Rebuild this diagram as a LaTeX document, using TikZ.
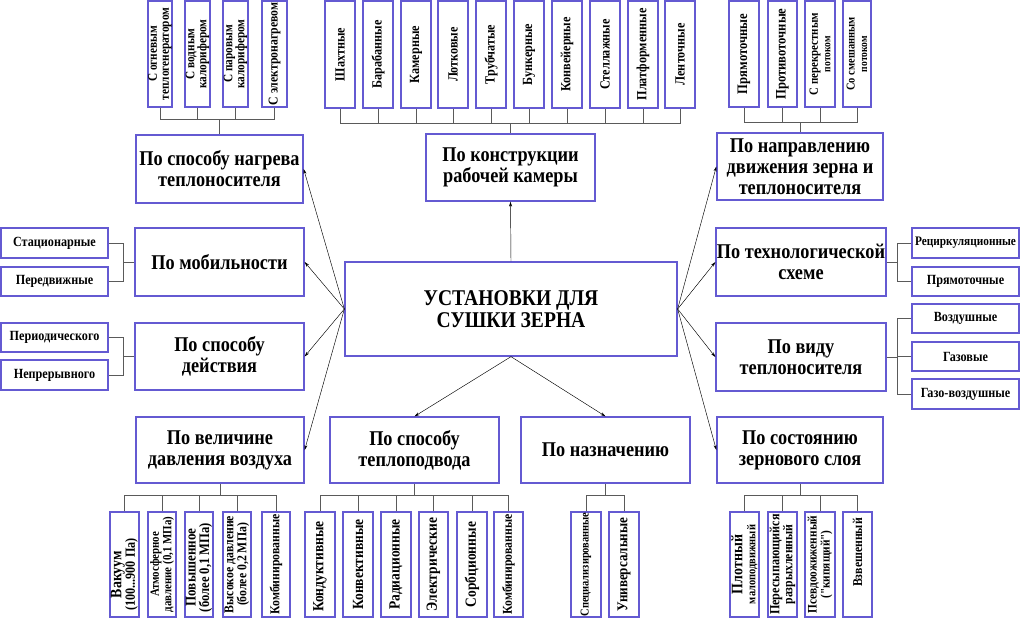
\documentclass[tikz,border=0pt]{standalone}
\usepackage{fontspec}
\setmainfont{Liberation Serif}
\newfontfamily\cnd[FakeStretch=0.87]{Liberation Serif}
\usetikzlibrary{arrows.meta,calc}
\definecolor{boxc}{RGB}{100,90,210}
\definecolor{linec}{RGB}{90,90,90}
\newcommand\fsz[2]{\fontsize{#1}{#2}\selectfont}
\tikzset{
 cbox/.style={draw=boxc, line width=1.3pt, fill=white, inner sep=0pt, align=center, font=\cnd\bfseries\fsz{21}{21}},
 mbox/.style={draw=boxc, line width=1.3pt, fill=white, inner sep=0pt, align=center, font=\cnd\bfseries\fsz{22.5}{22}},
 sbox/.style={draw=boxc, line width=1.3pt, fill=white, inner sep=0pt, align=center, font=\cnd\bfseries\fsz{14}{15}},
 vframe/.style={draw=boxc, line width=1.3pt, fill=white, inner sep=0pt},
 vtext/.style={rotate=90, inner sep=0pt, align=center},
 conn/.style={draw=linec, line width=0.6pt},
 arr/.style={draw=black, line width=0.45pt, -{Stealth[length=5pt,width=3pt]}},
}
\newcommand\cbx[7]{\node[#1, minimum width={(#5-#3)*1pt}, minimum height={(#6-#4)*1pt}] (#2) at ({(#3+#5)/2},{(#4+#6)/2}) {#7};}
\newcommand\vbx[8]{%
 \node[vframe, minimum width={(#4-#2)*1pt}, minimum height={(#5-#3)*1pt}] (#1) at ({(#2+#4)/2},{(#3+#5)/2}) {};
 \node[vtext, font=\bfseries#6] (#1t) at ($(#1.center)+(0,#8)$) {#7};}
\begin{document}
\begin{tikzpicture}[x=1pt,y=-1pt]
\fill[white] (0,0) rectangle (1021,619);
\useasboundingbox (0,0) rectangle (1021,619);

% main and category boxes
\cbx{mbox}{main}{345}{262}{677}{356}{УСТАНОВКИ ДЛЯ\\СУШКИ ЗЕРНА}
\cbx{cbox}{heat}{136}{135}{303}{203}{По способу нагрева\\теплоносителя}
\cbx{cbox}{constr}{426}{134}{595}{201}{По конструкции\\рабочей камеры}
\cbx{cbox}{dir}{717}{133}{883}{200}{\fsz{21}{19.5}По направлению\\движения зерна и\\теплоносителя}
\cbx{cbox}{mob}{135}{228}{304}{296}{По мобильности}
\cbx{cbox}{act}{135}{323}{304}{390}{По способу\\действия}
\cbx{cbox}{tech}{716}{228}{886}{296}{По технологической\\схеме}
\cbx{cbox}{carr}{716}{323}{886}{391}{По виду\\теплоносителя}
\cbx{cbox}{press}{136}{417}{304}{483}{По величине\\давления воздуха}
\cbx{cbox}{hsup}{330}{417}{499}{483}{По способу\\теплоподвода}
\cbx{cbox}{purp}{521}{417}{690}{483}{По назначению}
\cbx{cbox}{layer}{717}{417}{883}{483}{По состоянию\\зернового слоя}

% side small boxes
\cbx{sbox}{stat}{1}{228}{108}{258}{Стационарные}
\cbx{sbox}{pered}{1}{267}{108}{296}{Передвижные}
\cbx{sbox}{period}{1}{323}{108}{352}{Периодического}
\cbx{sbox}{nepr}{1}{360}{108}{390}{Непрерывного}
\cbx{sbox}{recirc}{912}{228}{1019}{258}{\fsz{13}{14}Рециркуляционные}
\cbx{sbox}{pryam}{912}{267}{1019}{296}{Прямоточные}
\cbx{sbox}{vozd}{912}{304}{1019}{333}{Воздушные}
\cbx{sbox}{gaz}{912}{342}{1019}{371}{Газовые}
\cbx{sbox}{gazvozd}{912}{379}{1019}{409}{Газо-воздушные}

% top-left vertical boxes
\vbx{h1}{148}{1}{172}{107}{\cnd\fsz{13}{12}}{С огневым\\теплогенератором}{0}
\vbx{h2}{185}{1}{210}{107}{\cnd\fsz{13}{12}}{С водным\\калорифером}{0}
\vbx{h3}{223}{1}{248}{107}{\cnd\fsz{13}{12}}{С паровым\\калорифером}{0}
\vbx{h4}{262}{1}{287}{107}{\cnd\fsz{13.5}{14}}{С электронагревом}{0}

% top-middle vertical boxes
\vbx{c1}{325}{1}{355}{108}{\cnd\fsz{14}{15}}{Шахтные}{0}
\vbx{c2}{363}{1}{393}{108}{\cnd\fsz{14}{15}}{Барабанные}{0}
\vbx{c3}{401}{1}{431}{108}{\cnd\fsz{14}{15}}{Камерные}{0}
\vbx{c4}{438}{1}{468}{108}{\cnd\fsz{14}{15}}{Лотковые}{0}
\vbx{c5}{476}{1}{506}{108}{\cnd\fsz{14}{15}}{Трубчатые}{0}
\vbx{c6}{514}{1}{544}{108}{\cnd\fsz{14}{15}}{Бункерные}{0}
\vbx{c7}{552}{1}{582}{108}{\cnd\fsz{14}{15}}{Конвейерные}{0}
\vbx{c8}{590}{1}{620}{108}{\cnd\fsz{14}{15}}{Стеллажные}{0}
\vbx{c9}{628}{1}{658}{108}{\cnd\fsz{14}{15}}{Платформенные}{0}
\vbx{c10}{665}{1}{695}{108}{\cnd\fsz{14}{15}}{Ленточные}{0}

% top-right vertical boxes
\vbx{d1}{729}{1}{759}{107}{\cnd\fsz{14.5}{15}}{Прямоточные}{0}
\vbx{d2}{768}{1}{797}{107}{\cnd\fsz{14.5}{15}}{Противоточные}{0}
\vbx{d3}{805}{1}{835}{107}{\cnd\fsz{12.5}{12.5}}{С перекрестным\\{\fsz{11}{12}потоком}}{0}
\vbx{d4}{843}{1}{871}{107}{\cnd\fsz{12}{12.5}}{Со смешанным\\{\fsz{11}{12}потоком}}{0}

% bottom-left vertical boxes
\vbx{p1}{110}{512}{139}{617}{\cnd\fsz{14}{13.5}}{{\fsz{16}{13.5}Вакуум}\\(100...900 Па)}{10}
\vbx{p2}{148}{512}{176}{617}{\cnd\fsz{12.5}{12.5}}{Атмосферное\\давление (0,1 МПа)}{0}
\vbx{p3}{185}{512}{213}{617}{\cnd\fsz{14.5}{13.5}}{{\fsz{15}{13.5}Повышенное}\\(более 0,1 МПа)}{3}
\vbx{p4}{223}{512}{251}{617}{\cnd\fsz{13.5}{13}}{Высокое давление\\(более 0,2 МПа)}{0}
\vbx{p5}{262}{512}{290}{617}{\cnd\fsz{13.5}{14}}{Комбинированные}{0}

% bottom-middle vertical boxes
\vbx{s1}{305}{512}{335}{617}{\cnd\fsz{15.5}{16}}{Кондуктивные}{2}
\vbx{s2}{343}{512}{373}{617}{\cnd\fsz{15.5}{16}}{Конвективные}{0}
\vbx{s3}{381}{512}{411}{617}{\cnd\fsz{15.5}{16}}{Радиационные}{0}
\vbx{s4}{419}{512}{448}{617}{\cnd\fsz{15.5}{16}}{Электрические}{0}
\vbx{s5}{457}{512}{487}{617}{\cnd\fsz{15.5}{16}}{Сорбционные}{0}
\vbx{s6}{494}{512}{523}{617}{\cnd\fsz{13.5}{14}}{Комбинированные}{0}

% purpose vertical boxes
\vbx{n1}{571}{512}{601}{617}{\cnd\fsz{12}{12}}{Специализированные}{0}
\vbx{n2}{609}{512}{639}{617}{\cnd\fsz{15}{16}}{Универсальные}{0}

% layer vertical boxes
\vbx{l1}{730}{512}{759}{617}{\cnd\fsz{12}{13}}{{\fsz{16}{13}Плотный}\\малоподвижный}{0}
\vbx{l2}{768}{512}{797}{617}{\cnd\fsz{13.5}{13}}{{\fsz{14}{13}Пересыпающийся}\\разрыхленный}{0}
\vbx{l3}{805}{512}{835}{617}{\cnd\fsz{13}{13}}{Псевдоожиженный\\("кипящий")}{0}
\vbx{l4}{843}{512}{872}{617}{\cnd\fsz{13.5}{14}}{Взвешенный}{-12}

% buses
\coordinate (heatbus) at ($(heat.north)+(0,-15)$);
\foreach \n in {h1,h2,h3,h4} \draw[conn] (\n.south) |- (heatbus);
\draw[conn] (heatbus) -- (heat.north);
\coordinate (constrbus) at ($(constr.north)+(0,-10)$);
\foreach \n in {c1,c2,c3,c4,c5,c6,c7,c8,c9,c10} \draw[conn] (\n.south) |- (constrbus);
\draw[conn] (constrbus) -- (constr.north);
\coordinate (dirbus) at ($(dir.north)+(0,-10)$);
\foreach \n in {d1,d2,d3,d4} \draw[conn] (\n.south) |- (dirbus);
\draw[conn] (dirbus) -- (dir.north);

\coordinate (pressbus) at ($(press.south)+(0,12)$);
\foreach \n in {p1,p2,p3,p4,p5} \draw[conn] (\n.north) |- (pressbus);
\draw[conn] (pressbus) -- (press.south);
\coordinate (hsupbus) at ($(hsup.south)+(0,12)$);
\foreach \n in {s1,s2,s3,s4,s5,s6} \draw[conn] (\n.north) |- (hsupbus);
\draw[conn] (hsupbus) -- (hsup.south);
\coordinate (purpbus) at ($(purp.south)+(0,12)$);
\foreach \n in {n1,n2} \draw[conn] (\n.north) |- (purpbus);
\draw[conn] (purpbus) -- (purp.south);
\coordinate (layerbus) at ($(layer.south)+(0,12)$);
\foreach \n in {l1,l2,l3,l4} \draw[conn] (\n.north) |- (layerbus);
\draw[conn] (layerbus) -- (layer.south);

% side connectors
\coordinate (mobj) at ($(mob.west)+(-11,0)$);
\draw[conn] (stat.east) -| (mobj) -- (mob.west);
\draw[conn] (pered.east) -| (mobj);
\coordinate (actj) at ($(act.west)+(-11,0)$);
\draw[conn] (period.east) -| (actj) -- (act.west);
\draw[conn] (nepr.east) -| (actj);
\coordinate (techj) at ($(tech.east)+(11,0)$);
\draw[conn] (tech.east) -- (techj) |- (recirc.west);
\draw[conn] (techj) |- (pryam.west);
\coordinate (carrj) at ($(carr.east)+(11,0)$);
\draw[conn] (carr.east) -- (carrj) |- (vozd.west);
\draw[conn] (carrj) |- (gaz.west);
\draw[conn] (carrj) |- (gazvozd.west);

% arrows
\draw[arr] (main.west) -- (heat.east);
\draw[arr] (main.west) -- (mob.east);
\draw[arr] (main.west) -- (act.east);
\draw[arr] (main.west) -- (press.east);
\draw[arr] (main.east) -- (dir.west);
\draw[arr] (main.east) -- (tech.west);
\draw[arr] (main.east) -- (carr.west);
\draw[arr] (main.east) -- (layer.west);
\draw[arr] (main.north) -- (constr.south);
\draw[arr] (main.south) -- (hsup.north);
\draw[arr] (main.south) -- (purp.north);
\end{tikzpicture}
\end{document}
